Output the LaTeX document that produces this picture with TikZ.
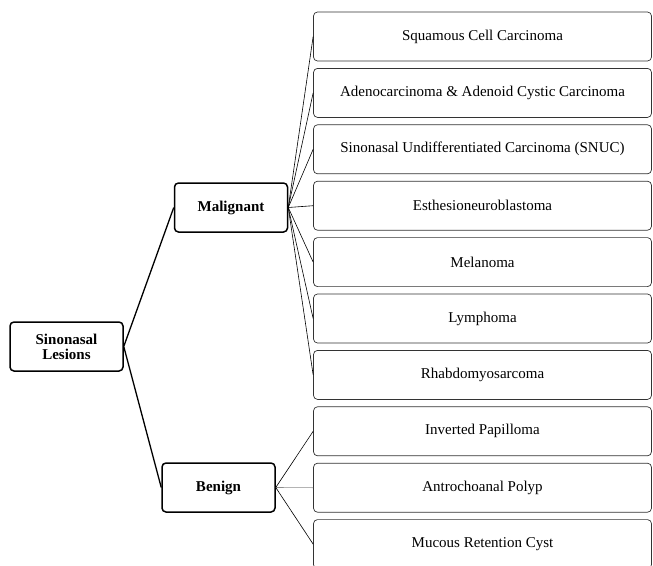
\documentclass[tikz,border=0pt]{standalone}
\usepackage{fontspec}
\setmainfont{Liberation Serif}
\usepackage{tikz}
\usetikzlibrary{positioning}

\tikzset{
  rootbox/.style={draw, line width=1.5pt, rounded corners=4pt, minimum width=113pt,
    minimum height=49pt, align=center, font=\fontsize{15}{15}\selectfont\bfseries},
  leafbox/.style={draw=black!80, line width=0.7pt, rounded corners=4pt, minimum width=338pt,
    minimum height=49pt, font=\fontsize{15}{18}\selectfont},
  trunk/.style={line width=1.3pt},
  twig/.style={line width=0.6pt}
}

\begin{document}
\begin{tikzpicture}[x=1pt,y=-1pt]
\useasboundingbox (0,0) rectangle (653,565);

\node[rootbox] (lesions) at (66.5,346.5) {Sinonasal\\Lesions};
\node[rootbox] (malig) at (231,207.5) {Malignant};
\node[rootbox] (benign) at (218.5,487.5) {Benign};

% malignant leaves
\foreach \t [count=\i] in {{Squamous Cell Carcinoma},
  {Adenocarcinoma \& Adenoid Cystic Carcinoma},
  {Sinonasal Undifferentiated Carcinoma (SNUC)},
  {Esthesioneuroblastoma},{Melanoma},{Lymphoma},{Rhabdomyosarcoma}}
  \node[leafbox] (m\i) at (482.5,{36.5+56.4*(\i-1)}) {\t};

% benign leaves
\foreach \t [count=\i] in {{Inverted Papilloma},{Antrochoanal Polyp},{Mucous Retention Cyst}}
  \node[leafbox] (b\i) at (482.5,{431.3+56.4*(\i-1)}) {\t};

\draw[trunk] (lesions.east) -- (malig.west);
\draw[trunk] (lesions.east) -- (benign.west);
\foreach \i in {1,...,7}
  \draw[twig] (malig.east) -- (m\i.west);
\draw[twig] (benign.east) -- (b1.west);
\draw[twig,black!45] (benign.east) -- (b2.west);
\draw[twig] (benign.east) -- (b3.west);
\end{tikzpicture}
\end{document}
